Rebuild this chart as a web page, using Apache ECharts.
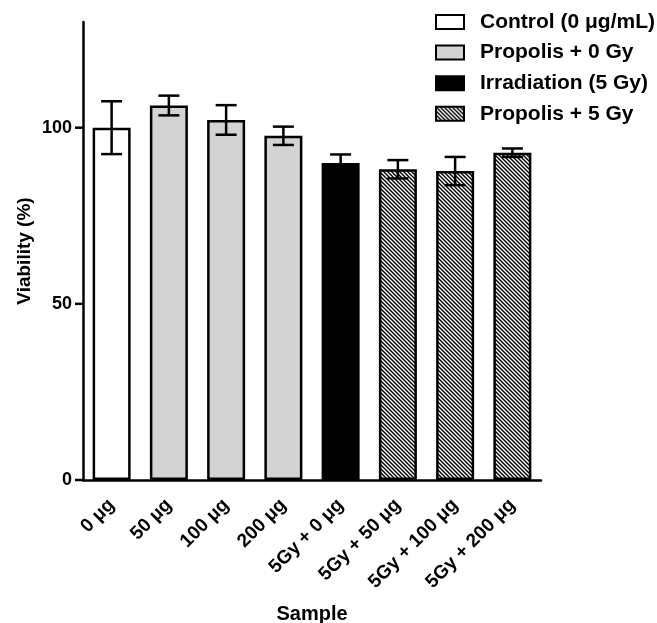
<!DOCTYPE html>
<html>
<head>
<meta charset="utf-8">
<script src="https://cdn.jsdelivr.net/npm/echarts@6/dist/echarts.min.js"></script>
<style>
  html, body { margin: 0; padding: 0; background: #fff; }
  #chart { width: 657px; height: 623px; }
</style>
</head>
<body>
<div id="chart"></div>
<script>
const categories = ['0 μg', '50 μg', '100 μg', '200 μg', '5Gy + 0 μg', '5Gy + 50 μg', '5Gy + 100 μg', '5Gy + 200 μg']
const viability = [100, 106.3, 102.2, 97.7, 90.0, 88.2, 87.7, 92.9]
const errors = [7.5, 2.8, 4.2, 2.6, 2.4, 2.6, 4.0, 1.2]
const groupNames = ['Control (0 μg/mL)', 'Propolis + 0 Gy', 'Irradiation (5 Gy)', 'Propolis + 5 Gy']
const sampleGroup = [0, 1, 1, 1, 2, 3, 3, 3]
const yTicks = [0, 50, 100]
const yMax = 130
const yTickMax = 100

const FONT = '"Liberation Sans", Arial, sans-serif'
const GRID_TOP = 22, GRID_BOTTOM = 143, CHART_H = 623
// second grid only carries the 0..100 labels so nothing shows at the axis end
const plotH = CHART_H - GRID_TOP - GRID_BOTTOM
const tickGridTop = CHART_H - GRID_BOTTOM - plotH * yTickMax / yMax

// diagonal hatch tile for the irradiated + propolis bars
function hatch() {
  const c = document.createElement('canvas')
  c.width = 4; c.height = 4
  const g = c.getContext('2d')
  g.fillStyle = '#fff'
  g.fillRect(0, 0, 4, 4)
  g.strokeStyle = '#000'
  g.lineWidth = 1.4
  g.beginPath()
  g.moveTo(-1, -1); g.lineTo(5, 5)
  g.moveTo(-1, 3); g.lineTo(1, 5)
  g.moveTo(3, -1); g.lineTo(5, 1)
  g.stroke()
  return c
}

const fills = ['#ffffff', '#d3d3d3', '#000000', { image: hatch(), repeat: 'repeat' }]

const barSeries = groupNames.map((name, gi) => ({
  name,
  type: 'bar',
  barWidth: 38,
  barGap: '-100%',
  data: viability.map((v, i) => sampleGroup[i] === gi ? v : '-'),
  itemStyle: { color: fills[gi], borderColor: '#000', borderWidth: 2.5 },
  emphasis: { disabled: true }
}))

const errSeries = {
  type: 'custom',
  z: 10,
  data: viability.map((v, i) => [i, v, errors[i]]),
  renderItem(params, api) {
    const x = api.value(0), v = api.value(1), e = api.value(2)
    const top = api.coord([x, v + e])
    const bot = api.coord([x, v - e])
    const hw = 10.5
    const style = { stroke: '#000', lineWidth: 2.5, fill: null }
    return {
      type: 'group',
      children: [
        { type: 'line', shape: { x1: top[0], y1: top[1], x2: bot[0], y2: bot[1] }, style },
        { type: 'line', shape: { x1: top[0] - hw, y1: top[1], x2: top[0] + hw, y2: top[1] }, style },
        { type: 'line', shape: { x1: bot[0] - hw, y1: bot[1], x2: bot[0] + hw, y2: bot[1] }, style }
      ]
    }
  }
}

// y ticks drawn at the axis from the tick values
const tickSeries = {
  type: 'custom',
  z: 10,
  clip: false,
  silent: true,
  data: yTicks.map(v => [0, v]),
  renderItem(params, api) {
    const p = api.coord([0, api.value(1)])
    const x0 = p[0] - api.size([1, 0])[0] / 2
    return {
      type: 'line',
      shape: { x1: x0 - 8, y1: p[1], x2: x0, y2: p[1] },
      style: { stroke: '#000', lineWidth: 2.5 }
    }
  }
}

const axisLine = { show: true, lineStyle: { color: '#000', width: 2.5 } }
const boldText = { fontFamily: FONT, fontWeight: 'bold', color: '#000' }

const chart = echarts.init(document.getElementById('chart'))
chart.setOption({
  animation: false,
  textStyle: { fontFamily: FONT },
  legend: {
    orient: 'vertical',
    left: 430,
    top: 5,
    itemWidth: 28,
    itemHeight: 14,
    itemGap: 6.6,
    icon: 'rect',
    data: groupNames,
    textStyle: { ...boldText, fontSize: 21, lineHeight: 24, padding: [0, 0, 0, 11] }
  },
  grid: [
    { left: 83, right: 116, top: GRID_TOP, bottom: GRID_BOTTOM, outerBoundsMode: 'none', containLabel: false },
    { left: 83, right: 116, top: tickGridTop, bottom: GRID_BOTTOM, outerBoundsMode: 'none', containLabel: false }
  ],
  xAxis: [{
    type: 'category',
    data: categories,
    name: 'Sample',
    nameLocation: 'middle',
    nameGap: 124,
    nameTextStyle: { ...boldText, fontSize: 20 },
    axisLine,
    axisTick: { alignWithLabel: true, length: 7, lineStyle: { color: '#000', width: 2.5 } },
    axisLabel: { ...boldText, rotate: 45, margin: 22, interval: 0, fontSize: 19 }
  }, {
    gridIndex: 1,
    type: 'category',
    data: categories,
    show: false
  }],
  yAxis: [{
    type: 'value',
    min: 0,
    max: yMax,
    name: 'Viability (%)',
    nameLocation: 'middle',
    nameGap: 49,
    nameTextStyle: { ...boldText, fontSize: 19 },
    axisLine,
    axisTick: { show: false },
    axisLabel: { show: false },
    splitLine: { show: false }
  }, {
    gridIndex: 1,
    type: 'value',
    min: 0,
    max: yTickMax,
    interval: 50,
    axisLine: { show: false },
    axisTick: { show: false },
    axisLabel: { ...boldText, margin: 11, fontSize: 18 },
    splitLine: { show: false }
  }],
  series: [...barSeries, errSeries, tickSeries]
})
</script>
</body>
</html>
